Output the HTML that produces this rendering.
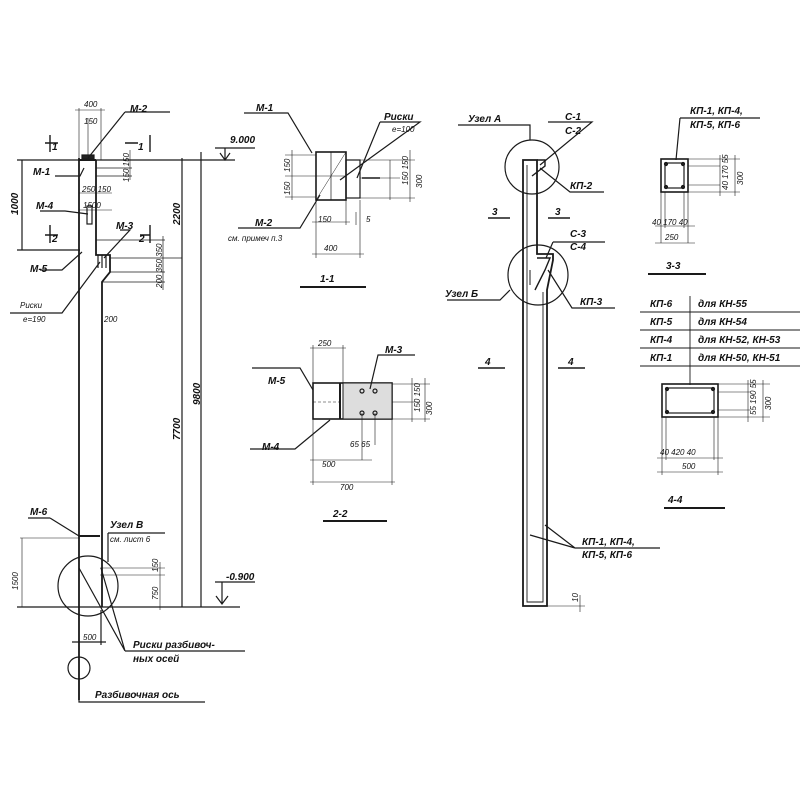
<!DOCTYPE html>
<html><head><meta charset="utf-8"><style>
html,body{margin:0;padding:0;background:#fff}
svg{display:block}
text{font-family:"Liberation Sans",sans-serif;font-style:italic;fill:#111;font-size:10px;font-weight:bold}
.s{font-size:8px;font-weight:normal}
</style></head><body>
<svg width="800" height="800" viewBox="0 0 800 800" xmlns="http://www.w3.org/2000/svg">
<g stroke="#1a1a1a" stroke-width="1.2" fill="none">
<!-- LEFT COLUMN -->
<line x1="17" y1="160" x2="235" y2="160"/>
<line x1="17" y1="607" x2="240" y2="607"/>
<path d="M79 158 V700" stroke-width="1.8"/>
<path d="M96 160 V255 H110 V272 L102 282 V607" stroke-width="1.8"/>
<line x1="79" y1="160" x2="96" y2="160" stroke-width="2"/>
<rect x="82" y="155" width="12" height="4" fill="#222"/>
<line x1="96" y1="168" x2="132" y2="168" stroke-width="0.7"/>
<line x1="96" y1="176" x2="132" y2="176" stroke-width="0.7"/>
<rect x="87" y="206" width="5" height="18"/>
<line x1="22" y1="160" x2="22" y2="250"/>
<line x1="17" y1="250" x2="80" y2="250"/>
<line x1="96" y1="240" x2="165" y2="240" stroke-width="0.7"/>
<line x1="110" y1="258" x2="182" y2="258" stroke-width="0.7"/>
<line x1="110" y1="272" x2="165" y2="272" stroke-width="0.7"/>
<line x1="102" y1="282" x2="165" y2="282" stroke-width="0.7"/>
<line x1="163" y1="236" x2="163" y2="290" stroke-width="0.7"/>
<line x1="98" y1="255" x2="98" y2="268"/><line x1="102" y1="255" x2="102" y2="268"/><line x1="106" y1="255" x2="106" y2="268"/>
<line x1="182" y1="158" x2="182" y2="607"/>
<line x1="201" y1="152" x2="201" y2="607"/>
<line x1="79" y1="108" x2="79" y2="160" stroke-width="0.6"/>
<line x1="101" y1="108" x2="101" y2="160" stroke-width="0.6"/>
<line x1="75" y1="110" x2="105" y2="110" stroke-width="0.6"/>
<line x1="88" y1="118" x2="88" y2="155" stroke-width="0.6"/>
<line x1="79" y1="193" x2="112" y2="193" stroke-width="0.6"/>
<line x1="79" y1="210" x2="112" y2="210" stroke-width="0.6"/>
<line x1="130" y1="150" x2="130" y2="180" stroke-width="0.6"/>
<path d="M45 143 H58 M50 135 V152 M125 143 H138 M150 135 V152 M45 235 H58 M50 225 V243 M140 235 H150 M150 225 V243" stroke-width="1.4"/>
<path d="M125 112 H170 M125 112 L88 158 M55 176 H80 L84 168 M40 211 H65 L88 214 M40 270 H62 L82 252 M10 313 H62 L100 262 M120 230 H130 L104 258"/>
<path d="M215 148 H255 M225 148 V160 M220 153 L225 160 L230 153 M215 582 H255 M222 582 V604 M216 596 L222 604 L228 596"/>
<line x1="79" y1="536" x2="100" y2="536" stroke-width="2"/>
<line x1="20" y1="538" x2="80" y2="538" stroke-width="0.6"/>
<line x1="22" y1="538" x2="22" y2="607" stroke-width="0.6"/>
<line x1="100" y1="568" x2="165" y2="568" stroke-width="0.6"/>
<line x1="100" y1="575" x2="165" y2="575" stroke-width="0.6"/>
<line x1="160" y1="562" x2="160" y2="610" stroke-width="0.6"/>
<circle cx="88" cy="586" r="30"/>
<path d="M108 533 V562 M108 533 H165 M50 518 L79 536 M28 518 H50"/>
<path d="M79 568 L125 651 M101 568 L125 651 M125 651 H245"/>
<path d="M72 642 H106 M101 610 V645"/>
<circle cx="79" cy="668" r="11"/>
<path d="M79 679 V702 H205"/>
<!-- SECTION 1-1 -->
<rect x="316" y="152" width="30" height="48" stroke-width="1.6"/>
<rect x="346" y="160" width="14" height="38"/>
<line x1="331" y1="152" x2="331" y2="200" stroke-width="0.7"/>
<line x1="316" y1="176" x2="346" y2="176" stroke-width="0.5"/>
<line x1="316" y1="200" x2="346" y2="152" stroke-width="0.5"/>
<path d="M285 155 H316 M285 176 H316 M285 197 H316 M292 150 V200" stroke-width="0.6"/>
<path d="M360 160 H415 M360 178 H400 M360 198 H415 M410 150 V202 M390 160 V200" stroke-width="0.6"/>
<line x1="362" y1="178" x2="380" y2="178" stroke-width="1.5"/>
<path d="M316 200 V258 M360 200 V258 M346 200 V225 M312 222 H350 M312 254 H364 M356 212 V225" stroke-width="0.6"/>
<path d="M244 113 H288 L312 153 M238 228 H300 L320 195 M380 122 H420 L340 180 M380 122 L357 178"/>
<line x1="300" y1="287" x2="366" y2="287" stroke-width="2"/>
<!-- SECTION 2-2 -->
<rect x="313" y="383" width="79" height="36" stroke-width="1.6"/>
<rect x="343" y="383" width="49" height="36" fill="#ddd" stroke-width="1"/>
<line x1="340" y1="383" x2="340" y2="419" stroke-width="2"/>
<line x1="313" y1="402" x2="340" y2="402" stroke-width="0.6" stroke-dasharray="3 2"/>
<circle cx="362" cy="391" r="2"/><circle cx="375" cy="391" r="2"/><circle cx="362" cy="413" r="2"/><circle cx="375" cy="413" r="2"/>
<path d="M392 384 H430 M392 402 H420 M392 419 H430 M425 378 V422 M412 378 V422" stroke-width="0.6"/>
<path d="M313 345 V485 M343 345 V383 M310 348 H346 M362 413 V460 M375 413 V445 M310 460 H372 M392 419 V485 M310 482 H395" stroke-width="0.6"/>
<path d="M252 368 H300 L313 390 M250 449 H295 L330 420 M415 355 H378 L370 389"/>
<line x1="323" y1="521" x2="387" y2="521" stroke-width="2"/>
<!-- RIGHT COLUMN -->
<path d="M523 160 V606 H547 V290 L553 260 V254 H537 V160 Z" stroke-width="1.8"/>
<path d="M527 165 V602 H543 V292" stroke-width="0.9"/>
<path d="M537 160 H545 V166 L532 176" stroke-width="1.4"/>
<path d="M537 258 H550 L545 270 L535 290" stroke-width="1.4"/>
<path d="M530 270 V285" stroke-width="1"/>
<circle cx="532" cy="167" r="27"/>
<circle cx="538" cy="275" r="30"/>
<path d="M458 125 H530 V140 M548 122 H592 L540 165 M540 168 L570 192 H604 M553 242 H605 M553 242 L546 258 M548 270 L572 308 H615 M447 300 H500 L510 290"/>
<path d="M488 218 H510 M548 218 H570 M478 368 H505 M558 368 H585" stroke-width="1.4"/>
<path d="M530 535 L575 548 M545 525 L575 548 M575 548 H660"/>
<path d="M547 606 H585 M580 595 V612" stroke-width="0.6"/>
<!-- SECTION 3-3 -->
<rect x="661" y="159" width="27" height="33" stroke-width="1.6"/>
<rect x="665" y="163" width="19" height="25"/>
<circle cx="666" cy="164" r="1.5" fill="#222"/><circle cx="683" cy="164" r="1.5" fill="#222"/><circle cx="666" cy="187" r="1.5" fill="#222"/><circle cx="683" cy="187" r="1.5" fill="#222"/>
<path d="M688 159 H740 M688 166 H720 M688 185 H720 M688 192 H740 M720 155 V196 M735 155 V196" stroke-width="0.6"/>
<path d="M661 192 V243 M688 192 V243 M665 192 V228 M684 192 V228 M655 226 H695 M655 243 H695" stroke-width="0.6"/>
<path d="M680 118 H760 M680 118 L676 160"/>
<line x1="648" y1="274" x2="706" y2="274" stroke-width="2"/>
<path d="M640 312 H800 M640 330 H800 M640 348 H800 M640 366 H800 M690 296 V385" stroke-width="0.9"/>
<!-- SECTION 4-4 -->
<rect x="662" y="384" width="56" height="33" stroke-width="1.6"/>
<rect x="666" y="388" width="48" height="25"/>
<circle cx="667" cy="389" r="1.5" fill="#222"/><circle cx="713" cy="389" r="1.5" fill="#222"/><circle cx="667" cy="412" r="1.5" fill="#222"/><circle cx="713" cy="412" r="1.5" fill="#222"/>
<path d="M718 384 H770 M718 392 H750 M718 410 H750 M718 417 H770 M748 380 V422 M763 380 V422" stroke-width="0.6"/>
<path d="M662 417 V475 M718 417 V475 M666 417 V460 M714 417 V460 M657 458 H723 M657 472 H723" stroke-width="0.6"/>
<line x1="664" y1="508" x2="725" y2="508" stroke-width="2"/>
</g>
<text x="84" y="107" class="s">400</text>
<text x="84" y="124" class="s">150</text>
<text x="130" y="112">М-2</text>
<text x="33" y="175">М-1</text>
<text x="36" y="209">М-4</text>
<text x="30" y="272">М-5</text>
<text x="20" y="308" class="s">Риски</text>
<text x="23" y="322" class="s">е=190</text>
<text x="116" y="229">М-3</text>
<text x="82" y="192" class="s">250 150</text>
<text x="83" y="208" class="s">1500</text>
<text x="52" y="150" font-size="11">1</text><text x="138" y="150" font-size="11">1</text>
<text x="52" y="242" font-size="11">2</text><text x="139" y="242" font-size="11">2</text>
<text x="104" y="322" class="s">200</text>
<text transform="translate(18,215) rotate(-90)">1000</text>
<text transform="translate(129,182) rotate(-90)" class="s">150 150</text>
<text transform="translate(162,288) rotate(-90)" class="s">200 350 350</text>
<text transform="translate(180,225) rotate(-90)">2200</text>
<text transform="translate(180,440) rotate(-90)">7700</text>
<text transform="translate(200,405) rotate(-90)">9800</text>
<text x="230" y="143">9.000</text>
<text x="226" y="580">-0.900</text>
<text x="30" y="515">М-6</text>
<text x="110" y="528">Узел  В</text>
<text x="110" y="542" class="s">см. лист 6</text>
<text transform="translate(18,590) rotate(-90)" class="s">1500</text>
<text transform="translate(158,600) rotate(-90)" class="s">750</text>
<text transform="translate(158,572) rotate(-90)" class="s">150</text>
<text x="83" y="640" class="s">500</text>
<text x="133" y="648">Риски  разбивоч-</text>
<text x="133" y="662">ных  осей</text>
<text x="95" y="698">Разбивочная  ось</text>
<text x="256" y="111">М-1</text>
<text x="384" y="120">Риски</text>
<text x="392" y="132" class="s">е=100</text>
<text x="255" y="226">М-2</text>
<text x="228" y="241" class="s">см. примеч п.3</text>
<text x="318" y="222" class="s">150</text>
<text x="324" y="251" class="s">400</text>
<text x="366" y="222" class="s">5</text>
<text transform="translate(290,172) rotate(-90)" class="s">150</text>
<text transform="translate(290,195) rotate(-90)" class="s">150</text>
<text transform="translate(408,185) rotate(-90)" class="s">150 150</text>
<text transform="translate(422,188) rotate(-90)" class="s">300</text>
<text x="320" y="282" font-size="15">1-1</text>
<text x="318" y="346" class="s">250</text>
<text x="385" y="353">М-3</text>
<text x="268" y="384">М-5</text>
<text x="262" y="450">М-4</text>
<text x="350" y="447" class="s">65 65</text>
<text x="322" y="467" class="s">500</text>
<text x="340" y="490" class="s">700</text>
<text transform="translate(420,412) rotate(-90)" class="s">150 150</text>
<text transform="translate(432,415) rotate(-90)" class="s">300</text>
<text x="333" y="517" font-size="15">2-2</text>
<text x="468" y="122">Узел  А</text>
<text x="565" y="120">С-1</text>
<text x="565" y="134">С-2</text>
<text x="570" y="189">КП-2</text>
<text x="492" y="215">3</text><text x="555" y="215">3</text>
<text x="570" y="237">С-3</text>
<text x="570" y="250">С-4</text>
<text x="445" y="297">Узел  Б</text>
<text x="580" y="305">КП-3</text>
<text x="485" y="365">4</text><text x="568" y="365">4</text>
<text x="582" y="545">КП-1,  КП-4,</text>
<text x="582" y="558">КП-5,  КП-6</text>
<text transform="translate(578,602) rotate(-90)" class="s">10</text>
<text x="690" y="114">КП-1,  КП-4,</text>
<text x="690" y="128">КП-5,  КП-6</text>
<text x="652" y="225" class="s">40 170 40</text>
<text x="665" y="240" class="s">250</text>
<text transform="translate(728,190) rotate(-90)" class="s">40 170 55</text>
<text transform="translate(743,185) rotate(-90)" class="s">300</text>
<text x="666" y="269" font-size="15">3-3</text>
<text x="650" y="307">КП-6</text><text x="698" y="307">для  КН-55</text>
<text x="650" y="325">КП-5</text><text x="698" y="325">для  КН-54</text>
<text x="650" y="343">КП-4</text><text x="698" y="343">для  КН-52, КН-53</text>
<text x="650" y="361">КП-1</text><text x="698" y="361">для  КН-50, КН-51</text>
<text transform="translate(756,415) rotate(-90)" class="s">55 190 55</text>
<text transform="translate(771,410) rotate(-90)" class="s">300</text>
<text x="660" y="455" class="s">40   420   40</text>
<text x="682" y="469" class="s">500</text>
<text x="668" y="503" font-size="15">4-4</text>
</svg>
</body></html>
